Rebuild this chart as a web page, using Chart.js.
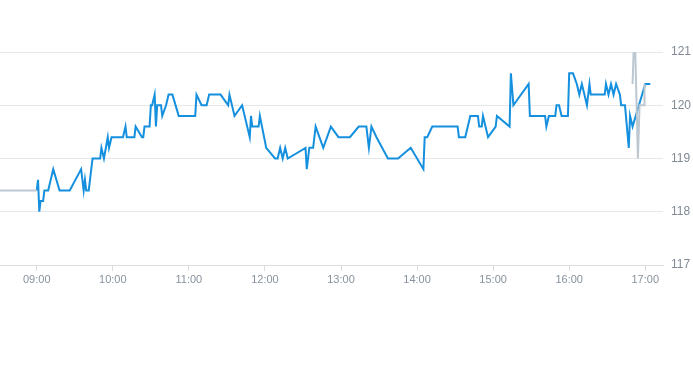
<!DOCTYPE html>
<html>
<head>
<meta charset="utf-8">
<script src="https://cdn.jsdelivr.net/npm/chart.js@4/dist/chart.umd.min.js"></script>
<style>
html,body{margin:0;padding:0;background:#fff;overflow:hidden}
#wrap{width:693px;height:365px;position:relative}
</style>
</head>
<body>
<div id="wrap"><canvas id="c"></canvas></div>
<script>
// Regular session (blue line)
const sessionTimes = [
 "09:00","09:01","09:02","09:03","09:05","09:06","09:09","09:11","09:13","09:18",
 "09:26","09:35","09:37","09:38","09:39","09:41","09:44","09:50","09:51","09:53",
 "09:56","09:57","09:59","10:08","10:10","10:11","10:17","10:18","10:23","10:24",
 "10:25","10:29","10:30","10:31","10:33","10:34","10:35","10:38","10:39","10:42",
 "10:44","10:47","10:52","11:05","11:06","11:10","11:14","11:16","11:25","11:31",
 "11:32","11:36","11:42","11:48","11:49","11:50","11:55","11:56","12:01","12:08",
 "12:10","12:12","12:14","12:16","12:18","12:32","12:33","12:35","12:38","12:40",
 "12:46","12:52","12:58","13:07","13:14","13:20","13:22","13:24","13:28","13:37",
 "13:45","13:55","14:05","14:06","14:08","14:12","14:32","14:33","14:38","14:42",
 "14:48","14:49","14:51","14:52","14:56","15:02","15:03","15:13","15:14","15:16",
 "15:28","15:29","15:41","15:42","15:44","15:49","15:50","15:52","15:54","15:59",
 "16:00","16:03","16:06","16:08","16:10","16:12","16:14","16:16","16:17","16:28",
 "16:29","16:31","16:33","16:35","16:37","16:40","16:41","16:44","16:47","16:48",
 "16:50","17:00","17:04"
];
const sessionPrices = [
 118.4,118.6,118.0,118.2,118.2,118.4,118.4,118.6,118.8,118.4,
 118.4,118.8,118.4,118.6,118.4,118.4,119.0,119.0,119.2,119.0,
 119.4,119.2,119.4,119.4,119.6,119.4,119.4,119.6,119.4,119.4,
 119.6,119.6,120.0,120.0,120.2,119.6,120.0,120.0,119.8,120.0,
 120.2,120.2,119.8,119.8,120.2,120.0,120.0,120.2,120.2,120.0,
 120.2,119.8,120.0,119.4,119.8,119.6,119.6,119.8,119.2,119.0,
 119.0,119.2,119.0,119.2,119.0,119.2,118.8,119.2,119.2,119.6,
 119.2,119.6,119.4,119.4,119.6,119.6,119.2,119.6,119.4,119.0,
 119.0,119.2,118.8,119.4,119.4,119.6,119.6,119.4,119.4,119.8,
 119.8,119.6,119.6,119.8,119.4,119.6,119.8,119.6,120.6,120.0,
 120.4,119.8,119.8,119.6,119.8,119.8,120.0,120.0,119.8,119.8,
 120.6,120.6,120.4,120.2,120.4,120.2,120.0,120.4,120.2,120.2,
 120.4,120.2,120.4,120.2,120.4,120.2,120.0,120.0,119.2,119.8,
 119.6,120.4,120.4
];
// Pre-market and after-hours (grey line)
const preTimes = ["08:31","09:00"];
const prePrices = [118.4,118.4];
const postTimes = ["16:50:00","16:50:48","16:52:08","16:54:13","16:55:30","16:59:24","16:59:24"];
const postPrices = [120.4,121.0,121.0,119.0,120.0,120.0,120.4];

const xTickLabels = ["09:00","10:00","11:00","12:00","13:00","14:00","15:00","16:00","17:00"];
const yTickLabels = ["117","118","119","120","121"];
const axisStart = "08:31";
const axisEnd = "17:14";

function toMin(t){
  const p = t.split(":").map(Number);
  return p[0]*60 + p[1] + (p[2]||0)/60;
}
function fmt(m){
  const h = Math.floor(m/60), mm = Math.round(m - h*60);
  return String(h).padStart(2,"0")+":"+String(mm).padStart(2,"0");
}
function pts(times, vals){ return times.map((t,i)=>({x:toMin(t), y:vals[i]})); }

const BLUE = "#1590df";
const GREY = "#bcc8d1";
const FONT_X = {family:"'Liberation Sans', Arial, sans-serif", size:11};
const FONT_Y = {family:"'Liberation Sans', Arial, sans-serif", size:12};

new Chart(document.getElementById("c"), {
  type: "line",
  data: {
    datasets: [
      {data: pts(postTimes, postPrices), borderColor: GREY, borderWidth: 2, pointRadius: 0, tension: 0, fill: false, order: 0},
      {data: pts(preTimes, prePrices), borderColor: GREY, borderWidth: 2, pointRadius: 0, tension: 0, fill: false, order: 1},
      {data: pts(sessionTimes, sessionPrices), borderColor: BLUE, borderWidth: 2, pointRadius: 0, tension: 0, fill: false, order: 2}
    ]
  },
  options: {
    responsive: true,
    maintainAspectRatio: false,
    animation: false,
    layout: {padding: {top: 52, bottom: 70, left: 0, right: 0}},
    plugins: {legend: {display: false}, tooltip: {enabled: false}},
    scales: {
      x: {
        type: "linear",
        min: toMin(axisStart),
        max: toMin(axisEnd),
        afterBuildTicks: s => { s.ticks = xTickLabels.map(t => ({value: toMin(t)})); },
        afterFit: s => { s.height = 30; },
        ticks: {callback: v => fmt(v), color: "#87929d", font: FONT_X, padding: 2, maxRotation: 0, autoSkip: false},
        grid: {display: true, drawOnChartArea: false, drawTicks: true, tickLength: 6, color: "#d9dee2"},
        border: {display: true, color: "#dcdfe2", width: 1}
      },
      y: {
        position: "right",
        min: 117,
        max: 121,
        afterBuildTicks: s => { s.ticks = yTickLabels.map(t => ({value: Number(t)})); },
        afterFit: s => { s.width = 30; },
        ticks: {callback: v => String(v), color: "#7f8a95", font: FONT_Y, padding: 8},
        grid: {color: "#e5e7e9", drawTicks: false},
        border: {display: false}
      }
    }
  }
});
</script>
</body>
</html>
